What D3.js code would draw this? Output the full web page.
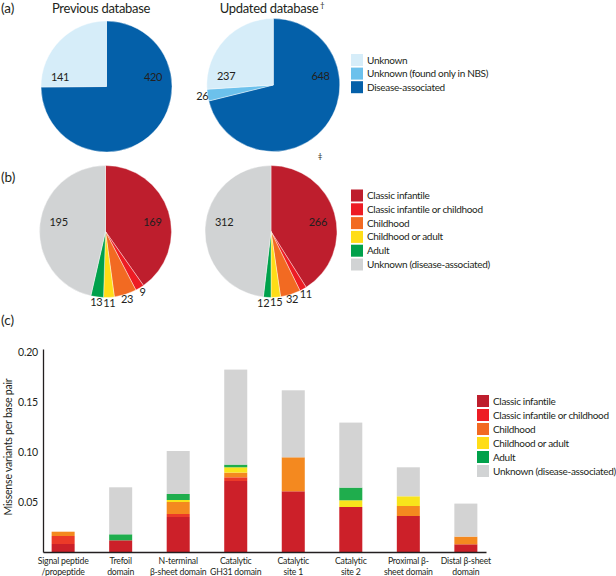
<!DOCTYPE html>
<html>
<head>
<meta charset="utf-8">
<script src="https://cdn.jsdelivr.net/npm/d3@7"></script>
<style>
  body { margin: 0; background: #fff; }
  text { font-family: Lato, "Open Sans", sans-serif; fill: #231f20; }
</style>
</head>
<body>
<script>

// (a) variant status, legend order
var statusNames = ["Unknown", "Unknown (found only in NBS)", "Disease-associated"];
var statusColors = ["#d6edf9", "#6cc1ec", "#0460a9"];
var previousStatus = [141, 0, 420];
var updatedStatus = [237, 26, 648];

// (b) phenotype, legend order = pie order
var stageNames = ["Classic infantile", "Classic infantile or childhood", "Childhood",
    "Childhood or adult", "Adult", "Unknown (disease-associated)"];
var stageColors = ["#be1e2d", "#ed1c24", "#f26a22", "#ffdd17", "#00a14b", "#d1d3d4"];
var previousStage = [169, 9, 23, 11, 13, 195];
var updatedStage = [266, 11, 32, 15, 12, 312];

// (c) missense variants per base pair by domain
var domains = ["Signal peptide\n/propeptide", "Trefoil\ndomain", "N-terminal\nβ-sheet domain",
    "Catalytic\nGH31 domain", "Catalytic\nsite 1", "Catalytic\nsite 2",
    "Proximal β-\nsheet domain", "Distal β-sheet\ndomain"];
var classicInfantile   = [0.008, 0.0117, 0.035, 0.071, 0.0607, 0.045, 0.036, 0.0077];
var classicOrChildhood = [0.008, 0, 0.003, 0.0037, 0, 0, 0, 0];
var childhood          = [0.0043, 0, 0.012, 0.0047, 0.034, 0, 0.010, 0.0077];
var childhoodOrAdult   = [0, 0, 0.002, 0.0053, 0, 0.0067, 0.0097, 0];
var adult              = [0, 0.006, 0.006, 0.0027, 0, 0.0127, 0, 0];
var unknownDisease     = [0, 0.047, 0.043, 0.095, 0.067, 0.065, 0.029, 0.033];
var yTicks = [0.05, 0.10, 0.15, 0.20];
var barColors = ["#cc2029", "#ec3a28", "#f4891f", "#f8e41b", "#1fad4d", "#d3d3d3"];

var svg = d3.select("body").append("svg")
    .attr("width", 616)
    .attr("height", 576);

// the original face is narrow, so squeeze Lato a little
function font(sel, size, spacing){
    return sel.style("font-size", size + "px").style("letter-spacing", spacing + "px");
}

function panelLabel(txt, y){
    font(svg.append("text").attr("x", 1).attr("y", y).attr("dy", "0.35em"), 13.5, 0).text(txt);
}

function drawPie(values, colors, cx, cy, r){
    var total = d3.sum(values);
    var arcs = d3.pie().sort(null)(values);
    var arc = d3.arc().innerRadius(0).outerRadius(r);
    var g = svg.append("g").attr("transform", "translate(" + cx + "," + cy + ")");

    g.selectAll("path")
        .data(arcs.filter(function(d){ return d.value > 0; }))
        .enter().append("path")
        .attr("d", arc)
        .attr("fill", function(d){ return colors[d.index]; })
        .attr("stroke", "#fff")
        .attr("stroke-width", 0.4);

    var lastX = null;
    arcs.forEach(function(d){
        if(d.value == 0) return;
        var mid = (d.startAngle + d.endAngle) / 2;
        var x, y;
        if(d.value / total > 0.2){
            // big slices: label sits level, a bit above centre
            x = (mid < Math.PI ? 1 : -1) * r * 0.71;
            y = -r * 0.14;
        } else {
            x = Math.sin(mid) * r * 1.08;
            y = -Math.cos(mid) * r * 1.08;
            // small wedges sit side by side at the bottom, keep them apart
            if(lastX != null && mid > Math.PI/2 && x > lastX - 13) x = lastX - 13;
            lastX = x;
        }
        font(g.append("text")
            .attr("x", x).attr("y", y).attr("dy", "0.35em")
            .attr("text-anchor", "middle"), 11, -0.3)
            .text(d.value);
    });
}

function drawLegend(names, colors, x, y0, step){
    var g = svg.append("g");
    names.forEach(function(n, i){
        g.append("rect")
            .attr("x", x).attr("y", y0 + i*step)
            .attr("width", 12).attr("height", 12)
            .attr("fill", colors[i]);
        font(g.append("text")
            .attr("x", x + 16).attr("y", y0 + i*step + 6).attr("dy", "0.35em"), 10, -0.32)
            .text(n);
    });
}

// ---- (a)
panelLabel("(a)", 8);
font(svg.append("text").attr("x", 101).attr("y", 13).attr("text-anchor", "middle"), 13, -0.3)
    .text("Previous database");
font(svg.append("text").attr("x", 269).attr("y", 13).attr("text-anchor", "middle"), 13, -0.3)
    .text("Updated database");
font(svg.append("text").attr("x", 320).attr("y", 8), 8, 0).text("†");

drawPie(previousStatus.slice().reverse(), statusColors.slice().reverse(), 106.5, 86.5, 65.5);
drawPie(updatedStatus.slice().reverse(), statusColors.slice().reverse(), 273.3, 85, 66.5);
drawLegend(statusNames, statusColors, 351, 54, 13.6);

// ---- (b)
panelLabel("(b)", 177);
font(svg.append("text").attr("x", 320).attr("y", 159).attr("text-anchor", "middle"), 8, 0).text("‡");
drawPie(previousStage, stageColors, 105.5, 231.5, 66);
drawPie(updatedStage, stageColors, 271, 231.5, 66);
drawLegend(stageNames, stageColors, 351, 189.5, 13.8);

// ---- (c)
panelLabel("(c)", 320);

var series = [classicInfantile, classicOrChildhood, childhood, childhoodOrAdult, adult, unknownDisease];
var rows = domains.map(function(d, i){
    var row = {domain: d};
    series.forEach(function(s, k){ row["s" + k] = s[i]; });
    return row;
});
var stacked = d3.stack().keys(series.map(function(s, k){ return "s" + k; }))(rows);

var x = d3.scaleBand().domain(domains).range([43, 486]).paddingInner(0.6).paddingOuter(0.15);
var y = d3.scaleLinear().domain([0, 0.203]).range([552, 349]);

var bars = svg.append("g");
bars.selectAll("g")
    .data(stacked)
    .enter().append("g")
    .attr("fill", function(d, i){ return barColors[i]; })
    .selectAll("rect")
    .data(function(d){ return d; })
    .enter().append("rect")
    .attr("x", function(d){ return x(d.data.domain); })
    .attr("width", x.bandwidth())
    .attr("y", function(d){ return y(d[1]); })
    .attr("height", function(d){ return y(d[0]) - y(d[1]); });

var yAxis = svg.append("g")
    .attr("transform", "translate(43,0)")
    .call(d3.axisLeft(y).tickValues(yTicks).tickFormat(d3.format(".2f")).tickSize(0).tickPadding(5));
yAxis.select(".domain").attr("stroke", "#231f20").attr("stroke-width", 1.3);
font(yAxis.selectAll("text"), 10.5, -0.2).attr("fill", "#231f20");

var xAxis = svg.append("g")
    .attr("transform", "translate(0,552)")
    .call(d3.axisBottom(x).tickSize(0).tickSizeOuter(0));
xAxis.select(".domain").attr("stroke", "#231f20").attr("stroke-width", 1.3);
xAxis.selectAll("text").each(function(d){
    var el = d3.select(this).text(null).attr("y", 0).attr("dy", null).attr("fill", "#231f20");
    font(el, 8.7, -0.2);
    d.split("\n").forEach(function(line, i){
        el.append("tspan").attr("x", 0).attr("y", 11.5 + i*11).text(line);
    });
});

font(svg.append("text")
    .attr("transform", "translate(12,447) rotate(-90)")
    .attr("text-anchor", "middle"), 10.5, -0.2)
    .text("Missense variants per base pair");

drawLegend(stageNames, stageColors, 477, 395, 14);

</script>
</body>
</html>
